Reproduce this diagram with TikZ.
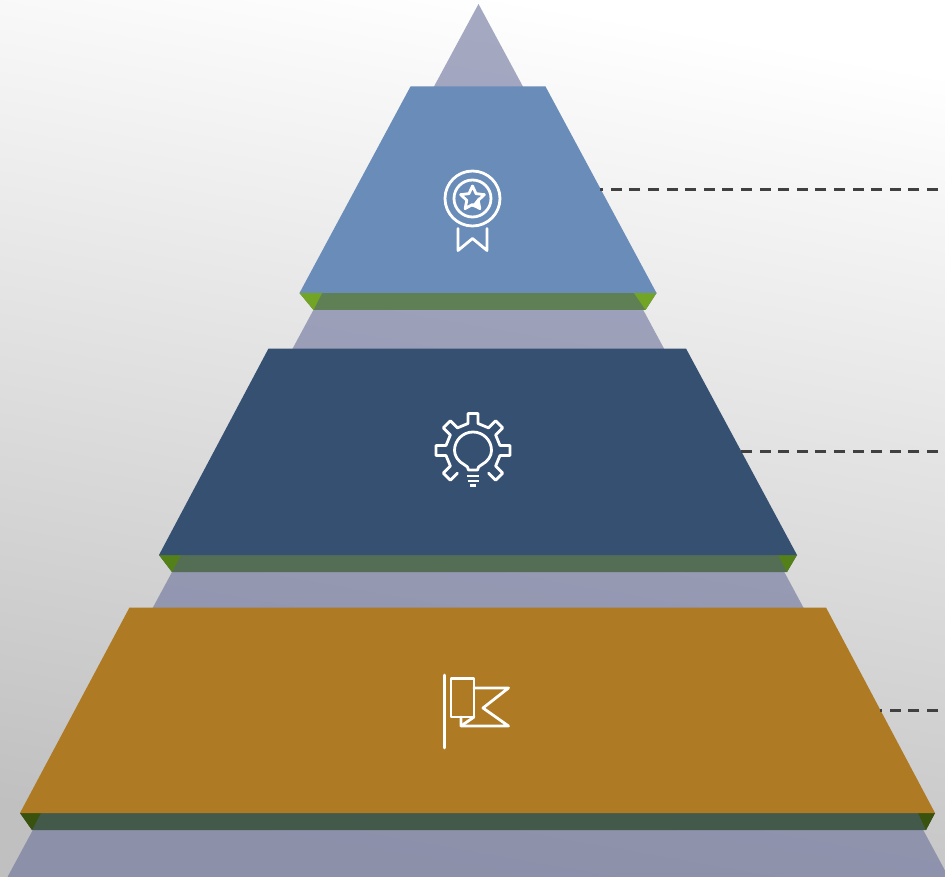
\documentclass[tikz,border=0pt]{standalone}
\usetikzlibrary{calc}
\definecolor{tierA}{HTML}{6A8CB9}
\definecolor{tierB}{HTML}{365072}
\definecolor{tierC}{HTML}{AE7A24}
\definecolor{bandA}{HTML}{5F7F55}
\definecolor{bandB}{HTML}{546E55}
\definecolor{bandC}{HTML}{435A4B}
\definecolor{cornerA}{HTML}{72A426}
\definecolor{cornerB}{HTML}{54801A}
\definecolor{cornerC}{HTML}{39520E}
\definecolor{apex}{HTML}{6A709A}
\definecolor{dashc}{HTML}{404040}
\definecolor{bgtop}{HTML}{FFFFFF}
\definecolor{bgmid}{HTML}{EFEFEF}
\definecolor{bgbot}{HTML}{C0C0C0}
\tikzset{
  icon/.style={draw=white,line width=2.8pt,line join=round,line cap=round},
  leader/.style={draw=dashc,line width=3pt,dash pattern=on 11pt off 7.6pt},
}
\begin{document}
\begin{tikzpicture}[x=1pt,y=-1pt]
\useasboundingbox (0,0) rectangle (945,877);
\shade[top color=bgtop,middle color=bgmid,bottom color=bgbot,shading angle=-10] (0,0) rectangle (945,877);
% back triangle
\fill[apex,fill opacity=0.6] (478.5,4) -- (948.5,877) -- (7.5,877) -- cycle;
% bands
\fill[bandA] (299.5,293) -- (656.5,293) -- (645.5,310) -- (313.5,310) -- cycle;
\fill[bandB] (159,555) -- (797,555) -- (787,572) -- (172,572) -- cycle;
\fill[bandC] (20,813) -- (935,813) -- (926,830) -- (32,830) -- cycle;
\fill[cornerA] (299.5,293) -- (322,293) -- (313.5,310) -- cycle;
\fill[cornerA] (656.5,293) -- (634,293) -- (645.5,310) -- cycle;
\fill[cornerB] (159,555) -- (181,555) -- (172,572) -- cycle;
\fill[cornerB] (797,555) -- (778,555) -- (787,572) -- cycle;
\fill[cornerC] (20,813) -- (41,813) -- (32,830) -- cycle;
\fill[cornerC] (935,813) -- (918,813) -- (926,830) -- cycle;
% tiers
\fill[tierA] (410.5,86.5) -- (545.5,86.5) -- (656.5,293) -- (299.5,293) -- cycle;
\fill[tierB] (268.5,348.5) -- (686,348.5) -- (797,555) -- (159,555) -- cycle;
\fill[tierC] (129.5,607.5) -- (826,607.5) -- (935,813) -- (20,813) -- cycle;
% leaders
\coordinate (la) at (600,189.5); \coordinate (lae) at (938,189.5);
\coordinate (lb) at (740,451.5); \coordinate (lbe) at (938,451.5);
\coordinate (lc) at (880,710.5); \coordinate (lce) at (938,710.5);
\draw[leader] (lae) -- (la);
\draw[leader] (lbe) -- (lb);
\draw[leader] (lce) -- (lc);
% medal
\begin{scope}[shift={(472.5,198.5)}]
\draw[icon] (0,0) circle (27.5);
\draw[icon] (0,0) circle (18.5);
\draw[icon] (270:12.5) -- (306:6) -- (342:12.5) -- (18:6) -- (54:12.5) -- (90:6) -- (126:12.5) -- (162:6) -- (198:12.5) -- (234:6) -- cycle;
\fill[white] (-1,8) -- (6,-1) -- (6,10) -- cycle;
\draw[icon] (-14.5,30) -- (-14.5,52) -- (0,40) -- (14.5,52) -- (14.5,30);
\end{scope}
% gear
\begin{scope}[shift={(473,450.5)}]
\draw[icon] ([rotate=-45]27,5) -- ([rotate=-45]37,5) -- ([rotate=-45]37,-5) -- ([rotate=-45]27,-5)
  \foreach \a in {0,45,90,135,180,225} {
    -- ([rotate=\a]27,5) -- ([rotate=\a]37,5) -- ([rotate=\a]37,-5) -- ([rotate=\a]27,-5)
  };
\draw[icon] (-4.5,19.5) .. controls (-4.5,17) and (-6,15.5) .. (-9,14)
  .. controls (-15,11) and (-18.5,5) .. (-18.5,0)
  arc[start angle=180,end angle=360,radius=18.5]
  .. controls (18.5,5) and (15,11) .. (9,14)
  .. controls (6,15.5) and (4.5,17) .. (4.5,19.5) -- cycle;
\draw[icon,line cap=butt,line width=2.2pt] (-6,25.5) -- (6,25.5);
\draw[icon,line cap=butt,line width=2.2pt] (-5.5,30.5) -- (5.5,30.5);
\draw[icon,line cap=butt,line width=2.2pt] (-3,35) -- (3,35);
\end{scope}
% flag
\draw[icon] (444.5,675) -- (444.5,748);
\draw[icon] (451,678.5) rectangle (474,717);
\draw[icon] (474,688) -- (508.5,688) -- (483,708) -- (508.5,726) -- (461,726) -- (461,717);
\draw[icon] (474,717) -- (461,726);
\end{tikzpicture}
\end{document}
